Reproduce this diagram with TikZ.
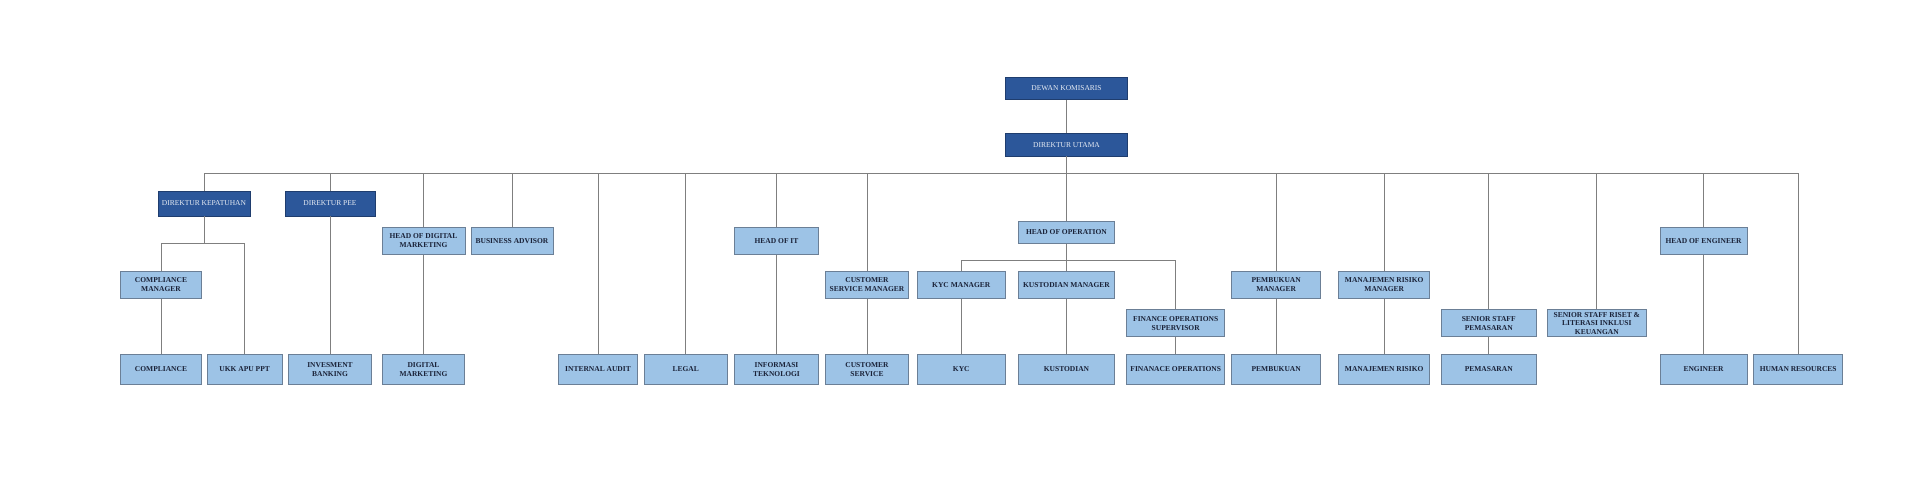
\documentclass[tikz,border=0pt]{standalone}
\usepackage{fontspec}
\setmainfont{Liberation Serif}
\definecolor{darkbox}{HTML}{2C579A}
\definecolor{darkedge}{HTML}{1F3D6E}
\definecolor{lightbox}{HTML}{9DC3E6}
\definecolor{lightedge}{HTML}{6B7F96}
\definecolor{boxtext}{HTML}{1A2238}
\definecolor{linegray}{HTML}{7F7F7F}
\tikzset{
  unit/.style={rectangle, inner sep=0pt, align=center, line width=0.8pt,
    font=\fontsize{7.5}{9}\selectfont},
  topunit/.style={unit, fill=darkbox, draw=darkedge, text=white!88!darkbox},
  subunit/.style={unit, fill=lightbox, draw=lightedge, text=boxtext, font=\fontsize{7.5}{9}\selectfont\bfseries},
  wd/.style={minimum width=#1pt},
  ht/.style={minimum height=#1pt},
  conn/.style={draw=linegray, line width=0.9pt},
}
\begin{document}
\begin{tikzpicture}[x=1pt, y=-1pt]
  \useasboundingbox (0,0) rectangle (1920,480);
  % board and director
  \node[topunit, wd=121.6, ht=22.4] (dewan) at (1066.5,88.5) {DEWAN KOMISARIS};
  \node[topunit, wd=121.6, ht=22.7] (utama) at (1066.5,144.7) {DIREKTUR UTAMA};
  \coordinate (bus) at (0,173);
  % first row
  \node[topunit, wd=92, ht=25] (kepatuhan) at (204,203.5) {DIREKTUR KEPATUHAN};
  \node[topunit, wd=90, ht=25] (pee) at (330,203.5) {DIREKTUR PEE};
  \node[subunit, wd=83, ht=27.7] (headdigital) at (423.5,241) {HEAD OF DIGITAL\\MARKETING};
  \node[subunit, wd=82, ht=27.7] (advisor) at (512,241) {BUSINESS ADVISOR};
  \node[subunit, wd=84.4, ht=27.7] (headit) at (776.5,241) {HEAD OF IT};
  \node[subunit, wd=96, ht=22.4] (headops) at (1066.5,232.5) {HEAD OF OPERATION};
  \node[subunit, wd=87, ht=27.7] (headeng) at (1703.5,241) {HEAD OF ENGINEER};
  % managers
  \node[subunit, wd=80.3, ht=27] (compmgr) at (161,285) {COMPLIANCE\\MANAGER};
  \node[subunit, wd=82.3, ht=27] (csmgr) at (867,285) {CUSTOMER\\SERVICE MANAGER};
  \node[subunit, wd=88.7, ht=27] (kycmgr) at (961.3,285) {KYC MANAGER};
  \node[subunit, wd=96, ht=27] (kustmgr) at (1066.5,285) {KUSTODIAN MANAGER};
  \node[subunit, wd=98, ht=27] (finsup) at (1175.7,323.2) {FINANCE OPERATIONS\\SUPERVISOR};
  \node[subunit, wd=89, ht=27] (pembmgr) at (1276.2,285) {PEMBUKUAN\\MANAGER};
  \node[subunit, wd=91, ht=27] (risikomgr) at (1384.2,285) {MANAJEMEN RISIKO\\MANAGER};
  \node[subunit, wd=95.3, ht=27] (seniorpem) at (1488.7,323.2) {SENIOR STAFF\\PEMASARAN};
  \node[subunit, wd=99, ht=27, font=\fontsize{7.5}{8.6}\selectfont\bfseries] (riset) at (1596.8,323.2) {SENIOR STAFF RISET \&\\LITERASI INKLUSI\\KEUANGAN};
  % bottom row
  \node[subunit, wd=80.3, ht=30] (compliance) at (161,369.3) {COMPLIANCE};
  \node[subunit, wd=74.7, ht=30] (ukk) at (244.7,369.3) {UKK APU PPT};
  \node[subunit, wd=82.3, ht=30] (invest) at (330,369.3) {INVESMENT\\BANKING};
  \node[subunit, wd=82.7, ht=30] (digital) at (423.5,369.3) {DIGITAL\\MARKETING};
  \node[subunit, wd=78.6, ht=30] (audit) at (598,369.3) {INTERNAL AUDIT};
  \node[subunit, wd=82.7, ht=30] (legal) at (685.7,369.3) {LEGAL};
  \node[subunit, wd=84.4, ht=30] (infotek) at (776.5,369.3) {INFORMASI\\TEKNOLOGI};
  \node[subunit, wd=82.3, ht=30] (cs) at (867,369.3) {CUSTOMER\\SERVICE};
  \node[subunit, wd=88.7, ht=30] (kyc) at (961.3,369.3) {KYC};
  \node[subunit, wd=96, ht=30] (kustodian) at (1066.5,369.3) {KUSTODIAN};
  \node[subunit, wd=98, ht=30] (finops) at (1175.7,369.3) {FINANACE OPERATIONS};
  \node[subunit, wd=89, ht=30] (pembukuan) at (1276.2,369.3) {PEMBUKUAN};
  \node[subunit, wd=91, ht=30] (risiko) at (1384.2,369.3) {MANAJEMEN RISIKO};
  \node[subunit, wd=95.3, ht=30] (pemasaran) at (1488.7,369.3) {PEMASARAN};
  \node[subunit, wd=87, ht=30] (engineer) at (1703.5,369.3) {ENGINEER};
  \node[subunit, wd=89, ht=30] (hr) at (1798.2,369.3) {HUMAN RESOURCES};
  % connectors
  \draw[conn] (dewan.south) -- (utama.north);
  \draw[conn] (utama.south) -- (headops.north);
  \draw[conn] (kepatuhan |- bus) -- (hr |- bus);
  \foreach \n in {kepatuhan,pee,headdigital,advisor,audit,legal,headit,csmgr,pembmgr,risikomgr,seniorpem,riset,headeng,hr}
    \draw[conn] (\n |- bus) -- (\n.north);
  \coordinate (kbus) at (0,243.3);
  \draw[conn] (kepatuhan.south) -- (kepatuhan |- kbus);
  \draw[conn] (compmgr.north) |- (kepatuhan |- kbus) -| (ukk.north);
  \coordinate (obus) at (0,260.3);
  \draw[conn] (kycmgr.north) |- (headops |- obus) -| (finsup.north);
  \draw[conn] (headops.south) -- (kustmgr.north);
  \draw[conn] (compmgr.south) -- (compliance.north);
  \draw[conn] (pee.south) -- (invest.north);
  \draw[conn] (headdigital.south) -- (digital.north);
  \draw[conn] (headit.south) -- (infotek.north);
  \draw[conn] (csmgr.south) -- (cs.north);
  \draw[conn] (kycmgr.south) -- (kyc.north);
  \draw[conn] (kustmgr.south) -- (kustodian.north);
  \draw[conn] (finsup.south) -- (finops.north);
  \draw[conn] (pembmgr.south) -- (pembukuan.north);
  \draw[conn] (risikomgr.south) -- (risiko.north);
  \draw[conn] (seniorpem.south) -- (pemasaran.north);
  \draw[conn] (headeng.south) -- (engineer.north);
\end{tikzpicture}
\end{document}
